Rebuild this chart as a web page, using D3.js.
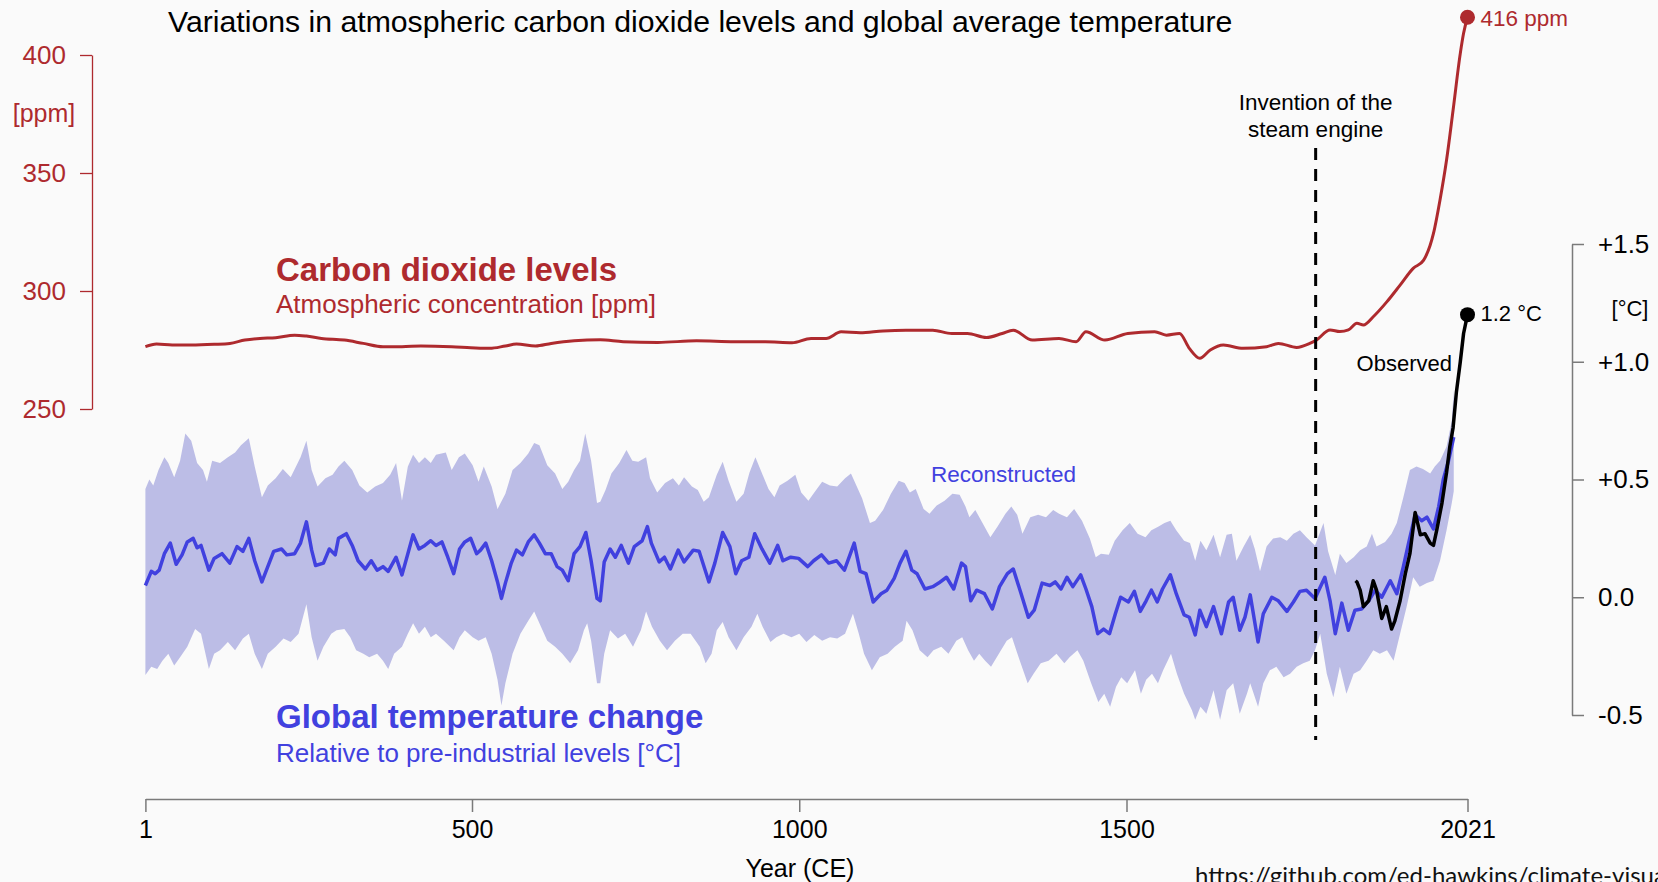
<!DOCTYPE html>
<html><head><meta charset="utf-8">
<script src="https://cdn.jsdelivr.net/npm/d3@7"></script>
<style>
html,body{margin:0;padding:0;background:#fafafa;overflow:hidden;}
svg{display:block;font-family:"Liberation Sans",Arial,Helvetica,sans-serif;}
</style></head><body>
<svg id="chart" width="1658" height="882"></svg>
<script>
// ---------------- DATA ----------------
const titleText = "Variations in atmospheric carbon dioxide levels and global average temperature";
const co2Ticks = [250, 300, 350, 400];
const tempTicks = [-0.5, 0, 0.5, 1, 1.5];
const tempTickLabels = ["-0.5", "0.0", "+0.5", "+1.0", "+1.5"];
const yearTicks = [1, 500, 1000, 1500, 2021];
const steamEngineYear = 1789;
const finalCO2 = 416, finalTemp = 1.2, finalYear = 2021;

// [year, ppm]
const co2 = [[1,276.4],[18,277.5],[42,277.1],[71,277.1],[106,277.4],[130,277.8],[153,279.2],[176,279.9],[200,280.2],[229,281.3],[247,280.9],[270,279.9],[305,279.2],[334,277.8],[364,276.4],[393,276.4],[422,276.7],[469,276.4],[498,276.0],[527,275.7],[551,276.7],[568,277.5],[597,276.7],[621,277.8],[656,278.9],[696,279.3],[731,278.5],[784,278.2],[843,278.9],[901,278.5],[948,278.5],[989,278.1],[1018,279.9],[1041,279.9],[1064,282.7],[1093,282.3],[1128,283.1],[1163,283.4],[1204,283.4],[1233,282.0],[1257,282.0],[1286,280.3],[1310,282.0],[1327,283.4],[1356,279.2],[1397,279.9],[1423,278.5],[1438,282.7],[1467,279.2],[1502,282.0],[1543,282.7],[1561,281.3],[1581,282.0],[1596,275.7],[1612,271.5],[1628,275.0],[1648,277.1],[1678,275.7],[1714,276.4],[1732,277.8],[1760,276.1],[1780,277.8],[1790,279.2],[1811,283.5],[1826,282.8],[1839,283.5],[1852,286.3],[1862,285.6],[1877,289.1],[1898,295.5],[1918,302.5],[1938,309.6],[1954,313.1],[1969,324.4],[1979,338.6],[1989,355.5],[1999,376.7],[2010,400.7],[2015,409.2],[2021,416]];

// [year, °C] reconstructed median
const reconMedian = [[1,.05],[10,.11],[16,.10],[22,.115],[30,.185],[39,.23],[48,.14],[57,.18],[65,.235],[74,.25],[80,.21],[86,.22],[98,.115],[106,.165],[118,.185],[130,.145],[141,.215],[150,.195],[159,.25],[168,.155],[179,.065],[188,.13],[197,.195],[209,.205],[217,.18],[229,.185],[238,.23],[247,.32],[255,.20],[261,.135],[273,.145],[282,.205],[291,.18],[296,.25],[308,.27],[317,.22],[326,.155],[337,.12],[346,.155],[355,.115],[364,.13],[372,.11],[384,.17],[393,.095],[402,.185],[410,.265],[419,.205],[428,.22],[437,.24],[445,.22],[454,.235],[463,.17],[472,.10],[481,.205],[489,.235],[498,.25],[507,.185],[513,.20],[521,.23],[530,.155],[539,.065],[545,-.005],[551,.06],[560,.145],[568,.20],[577,.18],[586,.235],[595,.265],[603,.23],[612,.185],[621,.185],[630,.13],[638,.115],[647,.07],[656,.185],[665,.215],[674,.275],[682,.155],[691,-.005],[696,-.015],[702,.15],[711,.205],[719,.17],[728,.22],[739,.145],[748,.215],[760,.24],[768,.30],[774,.23],[786,.15],[794,.17],[803,.12],[815,.20],[824,.15],[838,.20],[847,.195],[862,.065],[871,.145],[883,.275],[894,.215],[903,.10],[912,.155],[923,.17],[932,.27],[943,.205],[955,.145],[967,.22],[975,.155],[987,.17],[999,.165],[1013,.13],[1022,.155],[1034,.18],[1045,.145],[1057,.155],[1069,.115],[1084,.23],[1093,.11],[1102,.10],[1113,-.02],[1125,.015],[1134,.03],[1145,.08],[1154,.145],[1163,.195],[1172,.115],[1180,.10],[1192,.035],[1204,.045],[1213,.06],[1225,.085],[1236,.035],[1248,.145],[1254,.13],[1262,-.015],[1271,.03],[1283,.015],[1295,-.05],[1306,.045],[1318,.10],[1327,.12],[1339,.015],[1350,-.085],[1359,-.055],[1371,.06],[1383,.05],[1391,.065],[1400,.035],[1409,.085],[1418,.045],[1430,.095],[1438,.035],[1447,-.04],[1456,-.155],[1465,-.135],[1474,-.155],[1483,-.07],[1491,0],[1503,-.02],[1512,.025],[1521,-.06],[1530,-.015],[1538,.03],[1547,-.02],[1555,.035],[1567,.095],[1576,.015],[1588,-.075],[1596,-.085],[1605,-.16],[1612,-.055],[1622,-.125],[1633,-.04],[1645,-.155],[1656,-.02],[1663,0],[1673,-.14],[1681,-.085],[1689,.01],[1701,-.19],[1709,-.07],[1722,0],[1732,-.015],[1745,-.06],[1755,-.02],[1765,.025],[1775,.03],[1788,-.005],[1803,.085],[1811,-.015],[1819,-.155],[1829,-.025],[1839,-.14],[1849,-.055],[1859,-.05],[1870,-.015],[1880,.03],[1890,0],[1903,.07],[1913,.015],[1923,.13],[1931,.23],[1941,.35],[1951,.325],[1959,.34],[1969,.29],[1977,.385],[1984,.50],[1992,.58],[2000,.68]];

// [year, °C] upper edge of the uncertainty band
const reconUpper = [[1,.46],[7,.50],[13,.475],[21,.54],[30,.595],[36,.57],[45,.51],[54,.58],[62,.695],[71,.665],[80,.57],[89,.54],[95,.49],[103,.58],[115,.57],[127,.595],[138,.615],[147,.645],[159,.675],[168,.555],[179,.425],[188,.475],[200,.505],[211,.545],[223,.51],[238,.595],[247,.665],[255,.54],[264,.47],[276,.505],[287,.52],[296,.555],[305,.58],[317,.54],[328,.475],[340,.445],[352,.47],[364,.485],[375,.52],[384,.57],[393,.41],[402,.555],[410,.605],[419,.57],[428,.595],[437,.57],[445,.605],[460,.615],[469,.54],[480,.595],[489,.61],[501,.56],[510,.49],[518,.555],[530,.47],[539,.375],[551,.44],[562,.54],[574,.57],[586,.61],[595,.655],[603,.645],[615,.56],[627,.525],[638,.46],[647,.49],[656,.54],[665,.58],[673,.695],[682,.58],[691,.40],[696,.405],[704,.455],[713,.525],[725,.57],[736,.625],[745,.58],[754,.575],[766,.595],[772,.505],[783,.445],[795,.485],[807,.505],[816,.475],[824,.51],[836,.47],[845,.455],[854,.405],[862,.425],[874,.52],[883,.575],[892,.495],[904,.405],[915,.44],[924,.53],[933,.595],[941,.54],[953,.46],[962,.425],[970,.475],[982,.495],[994,.52],[1003,.445],[1014,.41],[1023,.445],[1035,.49],[1047,.475],[1058,.47],[1070,.505],[1079,.525],[1084,.495],[1096,.42],[1108,.315],[1116,.325],[1128,.37],[1140,.44],[1152,.495],[1161,.485],[1169,.445],[1178,.46],[1190,.375],[1199,.355],[1210,.39],[1222,.41],[1234,.44],[1245,.435],[1254,.385],[1260,.34],[1269,.37],[1280,.315],[1292,.255],[1303,.30],[1315,.355],[1324,.385],[1333,.35],[1341,.27],[1353,.34],[1365,.35],[1377,.34],[1388,.37],[1397,.355],[1409,.34],[1420,.375],[1432,.325],[1444,.25],[1453,.17],[1461,.185],[1473,.18],[1482,.24],[1494,.285],[1505,.315],[1517,.27],[1529,.255],[1538,.285],[1549,.30],[1558,.315],[1567,.325],[1576,.285],[1588,.24],[1597,.23],[1605,.155],[1613,.24],[1622,.20],[1633,.265],[1643,.17],[1653,.265],[1661,.27],[1668,.155],[1679,.215],[1689,.265],[1696,.205],[1704,.11],[1714,.215],[1724,.25],[1735,.255],[1745,.24],[1755,.27],[1765,.285],[1775,.255],[1788,.22],[1801,.315],[1808,.195],[1819,.095],[1826,.185],[1836,.145],[1847,.17],[1857,.20],[1867,.215],[1875,.27],[1882,.215],[1895,.235],[1905,.27],[1913,.315],[1923,.425],[1933,.54],[1943,.555],[1953,.545],[1964,.525],[1971,.555],[1979,.58],[1989,.64],[1997,.75],[2000,.88]];

// [year, °C] lower edge of the uncertainty band
const reconLower = [[1,-.33],[10,-.295],[19,-.305],[27,-.27],[36,-.24],[45,-.29],[54,-.255],[65,-.21],[77,-.135],[86,-.155],[98,-.305],[106,-.24],[115,-.225],[127,-.19],[138,-.225],[150,-.175],[159,-.155],[168,-.24],[179,-.305],[188,-.24],[200,-.21],[212,-.175],[223,-.19],[235,-.155],[247,-.03],[255,-.17],[264,-.27],[273,-.21],[285,-.155],[293,-.14],[305,-.135],[314,-.17],[323,-.225],[334,-.24],[343,-.255],[355,-.24],[364,-.27],[372,-.305],[381,-.24],[393,-.21],[402,-.155],[410,-.11],[419,-.155],[428,-.125],[437,-.17],[445,-.155],[457,-.185],[472,-.225],[481,-.17],[489,-.14],[501,-.17],[510,-.185],[521,-.17],[530,-.24],[539,-.35],[545,-.46],[551,-.365],[562,-.24],[574,-.155],[586,-.10],[595,-.06],[603,-.11],[615,-.185],[627,-.21],[638,-.24],[650,-.28],[662,-.225],[671,-.14],[676,-.11],[682,-.185],[691,-.365],[696,-.365],[702,-.24],[711,-.14],[723,-.175],[734,-.155],[746,-.21],[758,-.14],[766,-.06],[775,-.125],[787,-.185],[798,-.225],[810,-.185],[822,-.155],[834,-.155],[848,-.21],[857,-.28],[866,-.24],[874,-.14],[883,-.105],[892,-.17],[904,-.225],[915,-.17],[927,-.125],[936,-.07],[944,-.125],[956,-.19],[965,-.17],[976,-.155],[988,-.17],[1000,-.155],[1011,-.19],[1023,-.16],[1035,-.185],[1047,-.17],[1058,-.175],[1070,-.155],[1082,-.07],[1091,-.155],[1099,-.24],[1111,-.31],[1123,-.255],[1135,-.24],[1146,-.21],[1158,-.185],[1164,-.10],[1173,-.14],[1184,-.225],[1196,-.255],[1205,-.225],[1217,-.21],[1228,-.24],[1240,-.185],[1249,-.17],[1258,-.225],[1267,-.27],[1275,-.24],[1284,-.27],[1293,-.295],[1305,-.24],[1317,-.185],[1325,-.17],[1337,-.27],[1349,-.365],[1358,-.325],[1369,-.28],[1381,-.27],[1393,-.24],[1405,-.28],[1413,-.255],[1425,-.225],[1434,-.27],[1446,-.365],[1457,-.445],[1466,-.41],[1475,-.465],[1484,-.38],[1492,-.34],[1501,-.365],[1513,-.31],[1522,-.41],[1530,-.35],[1539,-.325],[1548,-.365],[1556,-.31],[1568,-.24],[1577,-.325],[1588,-.41],[1600,-.48],[1605,-.52],[1613,-.465],[1622,-.495],[1633,-.395],[1643,-.52],[1653,-.395],[1663,-.365],[1673,-.495],[1684,-.41],[1689,-.365],[1701,-.465],[1709,-.365],[1719,-.31],[1729,-.295],[1740,-.34],[1750,-.325],[1760,-.295],[1770,-.28],[1780,-.27],[1788,-.225],[1796,-.155],[1806,-.325],[1816,-.425],[1826,-.295],[1836,-.41],[1847,-.325],[1857,-.31],[1867,-.27],[1877,-.225],[1887,-.24],[1898,-.225],[1908,-.27],[1918,-.155],[1928,-.04],[1938,.085],[1948,.045],[1959,.06],[1969,.07],[1979,.155],[1989,.285],[1997,.40],[2000,.45]];

// [year, °C] observed
const observed = [[1850,.07],[1852,.065],[1857,.03],[1862,-.04],[1870,-.015],[1877,.07],[1882,.03],[1890,-.09],[1897,-.04],[1905,-.135],[1910,-.10],[1918,-.015],[1926,.10],[1933,.185],[1941,.36],[1949,.265],[1956,.27],[1964,.23],[1969,.22],[1974,.285],[1982,.40],[1989,.53],[1994,.64],[1999,.72],[2004,.87],[2010,1.0],[2015,1.12],[2021,1.2]];

// ---------------- STYLE ----------------
const RED = "#ae2a2e", BLUE = "#4141df", BAND = "#bcbde6", BG = "#fafafa";
const W = 1658, H = 882;

const svg = d3.select("#chart");
svg.append("rect").attr("width", W).attr("height", H).attr("fill", BG);

const x = d3.scaleLinear().domain([1, 2021]).range([145.4, 1467.5]);
const yC = d3.scaleLinear().domain([250, 400]).range([409, 55]);
const yT = d3.scaleLinear().domain([-0.5, 1.5]).range([715, 244]);

// uncertainty band
const bandPts = reconUpper.concat(reconLower.slice().reverse());
svg.append("path")
  .attr("d", d3.line().x(d => x(d[0])).y(d => yT(d[1]))(bandPts) + "Z")
  .attr("fill", BAND).attr("stroke", "none");

// reconstructed median
svg.append("path")
  .attr("d", d3.line().x(d => x(d[0])).y(d => yT(d[1]))(reconMedian))
  .attr("fill", "none").attr("stroke", BLUE).attr("stroke-width", 3.5)
  .attr("stroke-linejoin", "round");

// observed
svg.append("path")
  .attr("d", d3.line().x(d => x(d[0])).y(d => yT(d[1]))(observed))
  .attr("fill", "none").attr("stroke", "#000").attr("stroke-width", 3.5)
  .attr("stroke-linejoin", "round");

// CO2
svg.append("path")
  .attr("d", d3.line().x(d => x(d[0])).y(d => yC(d[1])).curve(d3.curveMonotoneX)(co2))
  .attr("fill", "none").attr("stroke", RED).attr("stroke-width", 3)
  .attr("stroke-linejoin", "round");

// steam engine line
svg.append("line")
  .attr("x1", x(steamEngineYear)).attr("x2", x(steamEngineYear))
  .attr("y1", 148).attr("y2", 740)
  .attr("stroke", "#000").attr("stroke-width", 3).attr("stroke-dasharray", "12,9");

// end dots
svg.append("circle").attr("cx", x(finalYear)).attr("cy", yC(finalCO2)).attr("r", 7.5).attr("fill", RED);
svg.append("circle").attr("cx", x(finalYear)).attr("cy", yT(finalTemp)).attr("r", 7.5).attr("fill", "#000");

// ---------------- AXES ----------------
const ff = '"Liberation Sans", Arial, Helvetica, sans-serif';
const gL = svg.append("g").attr("transform", "translate(92,0)")
  .call(d3.axisLeft(yC).tickValues(co2Ticks).tickSize(12).tickSizeOuter(0).tickPadding(14).tickFormat(d3.format("d")))
  .attr("font-size", 26).attr("font-family", ff);
gL.select(".domain").attr("stroke", RED).attr("stroke-width", 1.3);
gL.selectAll(".tick line").attr("stroke", RED).attr("stroke-width", 1.3);
gL.selectAll(".tick text").attr("fill", RED);

const gR = svg.append("g").attr("transform", "translate(1572,0)")
  .call(d3.axisRight(yT).tickValues(tempTicks).tickSize(12).tickSizeOuter(0).tickPadding(14)
    .tickFormat(d => tempTickLabels[tempTicks.indexOf(d)]))
  .attr("font-size", 26).attr("font-family", ff);
gR.select(".domain").attr("stroke", "#7a7a7a").attr("stroke-width", 1.5);
gR.selectAll(".tick line").attr("stroke", "#7a7a7a").attr("stroke-width", 1.5);
gR.selectAll(".tick text").attr("fill", "#000");

const gB = svg.append("g").attr("transform", "translate(0,799)")
  .call(d3.axisBottom(x).tickValues(yearTicks).tickSize(13).tickSizeOuter(0).tickPadding(8).tickFormat(d3.format("d")))
  .attr("font-size", 25).attr("font-family", ff);
gB.select(".domain").attr("stroke", "#7a7a7a").attr("stroke-width", 1.5);
gB.selectAll(".tick line").attr("stroke", "#7a7a7a").attr("stroke-width", 1.5);
gB.selectAll(".tick text").attr("fill", "#000");

// ---------------- TEXT ----------------
function txt(s, px, py, size, fill, opts = {}) {
  return svg.append("text").attr("x", px).attr("y", py).text(s)
    .attr("font-size", size).attr("fill", fill)
    .attr("font-weight", opts.weight || "normal")
    .attr("text-anchor", opts.anchor || "start")
    .attr("font-family", opts.family || ff);
}

const title = txt(titleText, 168, 32, 28, "#000");
const tl = title.node().getComputedTextLength();
title.attr("font-size", 28 * 1065 / tl);

txt("[ppm]", 44, 122, 25, RED, { anchor: "middle" });
txt("[°C]", 1630, 316, 22, "#000", { anchor: "middle" });

txt("Carbon dioxide levels", 276, 281, 33, RED, { weight: "bold" });
txt("Atmospheric concentration [ppm]", 276, 313, 26, RED);

txt("Global temperature change", 276, 728, 33, BLUE, { weight: "bold" });
txt("Relative to pre-industrial levels [°C]", 276, 762, 26, BLUE);

txt("Reconstructed", 931, 482, 22.5, BLUE);
txt("Observed", 1452, 371, 22, "#000", { anchor: "end" });
txt("1.2 °C", x(finalYear) + 13, 321, 22, "#000");
txt("416 ppm", x(finalYear) + 13, 26, 22.5, RED);

txt("Invention of the", x(steamEngineYear), 110, 22.5, "#000", { anchor: "middle" });
txt("steam engine", x(steamEngineYear), 137, 22.5, "#000", { anchor: "middle" });

txt("Year (CE)", 800, 877, 25, "#000", { anchor: "middle" });
txt("https://github.com/ed-hawkins/climate-visuals", 1195, 884, 24, "#111", { family: 'Lato, "Open Sans", sans-serif' });
</script>
</body></html>
